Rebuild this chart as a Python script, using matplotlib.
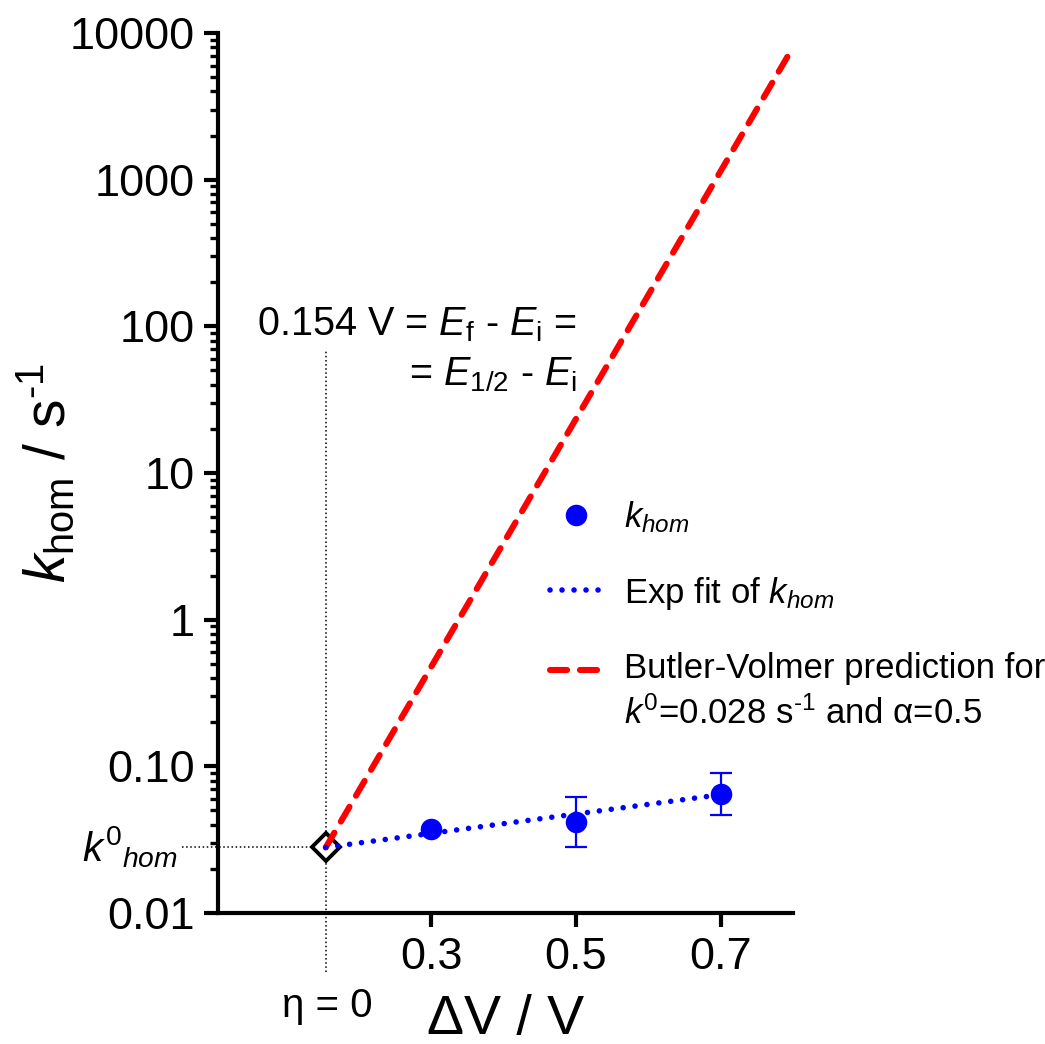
import numpy as np
import matplotlib
matplotlib.use("Agg")
import matplotlib.pyplot as plt
from matplotlib.ticker import LogLocator, NullFormatter
from matplotlib.legend_handler import HandlerLine2D

plt.rcParams['font.family'] = ['Liberation Sans', 'DejaVu Sans']
plt.rcParams['mathtext.fontset'] = 'custom'
plt.rcParams['mathtext.rm'] = 'Liberation Sans'
plt.rcParams['mathtext.it'] = 'Liberation Sans:italic'
plt.rcParams['mathtext.bf'] = 'Liberation Sans:bold'

# Measured homogeneous rate constants vs. potential step
delta_v = [0.3, 0.5, 0.7]
k_hom = [0.0372, 0.0419, 0.0644]
k_hom_low = [np.nan, 0.0281, 0.0463]
k_hom_high = [np.nan, 0.0621, 0.0896]

# Zero-overpotential point (E1/2 - Ei) and standard rate constant
eta0_v = 0.154
k0_hom = 0.028

# Exponential fit of k_hom (end points)
fit_v = [0.154, 0.7]
fit_k = [0.028, 0.0641]

# Butler-Volmer prediction, k0 = 0.028 s-1, alpha = 0.5 (end points)
bv_v = [0.154, 0.8]
bv_k = [0.028, 8000]

y_ticks = [0.01, 0.1, 1, 10, 100, 1000, 10000]
y_tick_labels = ["0.01", "0.10", "1", "10", "100", "1000", "10000"]
x_ticks = [0.3, 0.5, 0.7]
x_tick_labels = ["0.3", "0.5", "0.7"]

W, H = 1045, 1044


def fpos(x, y):
    """Pixel position (from top-left) to figure fraction."""
    return x / W, 1 - y / H


class FirstLineHandler(HandlerLine2D):
    """Line handle aligned with the first line of a two-line label."""

    def __init__(self, yshift=0.0, **kw):
        super().__init__(**kw)
        self.yshift = yshift

    def create_artists(self, legend, orig_handle, xdescent, ydescent, width,
                       height, fontsize, trans):
        artists = super().create_artists(legend, orig_handle, xdescent, ydescent,
                                         width, height, fontsize, trans)
        for a in artists:
            a.set_ydata(np.asarray(a.get_ydata()) + self.yshift)
        return artists


fig = plt.figure(figsize=(W / 100, H / 100), dpi=100)
ax = fig.add_axes([218 / W, 1 - 913 / H, (793 - 218) / W, (913 - 33) / H])

blue = '#0000ff'
red = '#ff0000'

# Guide lines through the zero-overpotential point
ax.plot([eta0_v, eta0_v], [-0.067, 0.64], transform=ax.get_xaxis_transform(),
        color='black', lw=1.1, ls=(0, (1, 1.7)), clip_on=False, zorder=1)
ax.plot([-0.045, eta0_v], [k0_hom, k0_hom], color='black', lw=1.1,
        ls=(0, (1, 1.7)), clip_on=False, zorder=1)

ax.plot(eta0_v, k0_hom, marker='D', ms=14, mfc='white', mec='black', mew=2.8,
        ls='none', zorder=2)

bv_line, = ax.plot(bv_v, bv_k, color=red, lw=4.4, ls=(0, (2.8, 2.1)),
                   dash_capstyle='round', zorder=3,
                   label='Butler-Volmer prediction for\n$k^0$=0.028 s$^{\\text{-}1}$ and α=0.5')
fit_line, = ax.plot(fit_v, fit_k, color=blue, lw=4.0, ls=(0, (0.01, 2.15)),
                    dash_capstyle='round', zorder=3, label=r'Exp fit of $k_{hom}$')

yerr = [np.array(k_hom) - np.array(k_hom_low), np.array(k_hom_high) - np.array(k_hom)]
ax.errorbar(delta_v, k_hom, yerr=yerr, fmt='none', ecolor=blue, elinewidth=1.6,
            capsize=8, capthick=1.6, zorder=4)
pts, = ax.plot(delta_v, k_hom, 'o', color=blue, ms=14.5, ls='none', zorder=5,
               label=r'$k_{hom}$')

ax.set_yscale('log')
ax.set_ylim(0.01, 10000)
ax.set_xlim(0.005, 0.8)
ax.set_yticks(y_ticks)
ax.set_yticklabels(y_tick_labels)
ax.yaxis.set_minor_locator(LogLocator(base=10, subs=np.arange(2, 10), numticks=20))
ax.yaxis.set_minor_formatter(NullFormatter())
ax.set_xticks(x_ticks)
ax.set_xticklabels(x_tick_labels)

for s in ['top', 'right']:
    ax.spines[s].set_visible(False)
for s in ['left', 'bottom']:
    ax.spines[s].set_linewidth(3.0)
ax.tick_params(axis='both', which='major', length=10, width=3.0, labelsize=32.5, pad=7,
               direction='out')
ax.tick_params(axis='y', which='minor', length=6, width=2.4, direction='out')

ax.set_xlabel('ΔV / V', fontsize=40)
ax.xaxis.set_label_coords(0.5, -0.092)

ax.set_ylabel(r'$k_{\mathrm{hom}}$ / s$^{\text{-}1}$', fontsize=41)
ax.yaxis.set_label_coords(-0.245, 0.5)

fig.text(*fpos(577, 350), '0.154 V = $E_\\mathrm{f}$ - $E_\\mathrm{i}$ =\n= $E_{1/2}$ - $E_\\mathrm{i}$',
         fontsize=28.5, ha='right', va='center', multialignment='right', linespacing=1.38)

fig.text(*fpos(178, 847), r'$k^{0}{}_{hom}$', fontsize=29, ha='right', va='center')
fig.text(*fpos(327, 1006), 'η = 0', fontsize=29, ha='center', va='center')

leg = ax.legend(handles=[pts, fit_line, bv_line], loc='upper left',
                bbox_to_anchor=fpos(550, 499), bbox_transform=fig.transFigure,
                frameon=False, fontsize=25, handlelength=1.5, handletextpad=0.62,
                labelspacing=1.15, borderpad=0, borderaxespad=0, numpoints=1,
                handler_map={bv_line: FirstLineHandler(yshift=16)})
leg.get_texts()[2].set_linespacing(1.42)

fig.savefig('out.png', dpi=100)
